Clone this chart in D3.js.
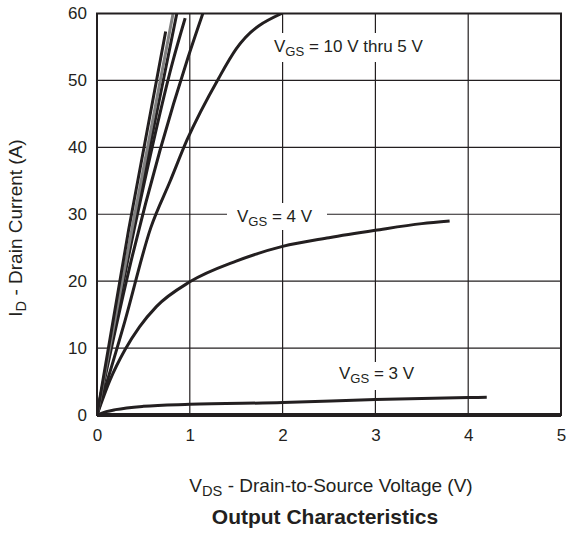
<!DOCTYPE html>
<html>
<head>
<meta charset="utf-8">
<script src="https://cdn.jsdelivr.net/npm/d3@7"></script>
<style>
  body { margin: 0; background: #fff; }
  svg text { font-family: "Liberation Sans", Arial, sans-serif; fill: #231f20; }
</style>
</head>
<body>
<svg width="566" height="533"></svg>
<script>
// tick values
var xTicks = [0, 1, 2, 3, 4, 5];
var yTicks = [0, 10, 20, 30, 40, 50, 60];

// curves, [VDS, ID]
var vgs10 = [[0, 0], [0.34, 27.6], [0.74, 57.3]];
var vgs9 = [[0, 0], [0.38, 28], [0.82, 60]];
var vgs8 = [[0, 0], [0.4, 28.5], [0.86, 60]];
var vgs7 = [[0, 0], [0.42, 29], [0.82, 53], [0.95, 59.3]];
var vgs6 = [[0, 0], [0.35, 22], [0.68, 39.6], [0.98, 53.4], [1.14, 60]];
var vgs5 = [[0, 0], [0.3, 14], [0.58, 28], [0.79, 35], [0.97, 41.1], [1.31, 50.3], [1.5, 54.7], [1.99, 60]];
var vgs4 = [[0, 0], [0.14, 5.2], [0.3, 9.7], [0.46, 13.2], [0.64, 16.2], [1, 19.9], [1.5, 23], [2, 25.2], [2.5, 26.5], [3, 27.6], [3.5, 28.6], [3.8, 29]];
var vgs3 = [[0, 0], [0.1, 0.5], [0.2, 0.8], [0.5, 1.3], [1, 1.6], [2, 1.85], [3, 2.3], [4, 2.6], [4.2, 2.65]];

var svg = d3.select("svg");
var mLeft = 97, mTop = 13.5, w = 464, h = 401.5;

var x = d3.scaleLinear().domain([0, 5]).range([0, w]);
var y = d3.scaleLinear().domain([0, 60]).range([h, 0]);

var g = svg.append("g").attr("transform", "translate(" + mLeft + "," + mTop + ")");

// grid
g.append("g").selectAll("line").data(xTicks).join("line")
    .attr("x1", d => x(d)).attr("x2", d => x(d))
    .attr("y1", 0).attr("y2", h)
    .attr("stroke", "#231f20").attr("stroke-width", 1.2);
g.append("g").selectAll("line").data(yTicks).join("line")
    .attr("x1", 0).attr("x2", w)
    .attr("y1", d => y(d)).attr("y2", d => y(d))
    .attr("stroke", "#231f20").attr("stroke-width", 1.2);

// white boxes behind labels
var boxes = [[270, 33, 172, 29], [227, 203, 100, 27], [334, 362, 91, 28]];
svg.append("g").selectAll("rect").data(boxes).join("rect")
    .attr("x", d => d[0]).attr("y", d => d[1])
    .attr("width", d => d[2]).attr("height", d => d[3])
    .attr("fill", "#fff");

// curves
svg.append("clipPath").attr("id", "clip").append("rect")
    .attr("width", w).attr("height", h + 5);
var line = d3.line().x(d => x(d[0])).y(d => y(d[1])).curve(d3.curveMonotoneX);
var curves = [
  {d: vgs4, c: "#231f20"}, {d: vgs3, c: "#231f20"}, {d: vgs5, c: "#231f20"},
  {d: vgs6, c: "#231f20"}, {d: vgs7, c: "#231f20"}, {d: vgs8, c: "#231f20"},
  {d: vgs9, c: "#808080"}, {d: vgs10, c: "#231f20"}
];
g.append("g").attr("clip-path", "url(#clip)").selectAll("path").data(curves).join("path")
    .attr("d", d => line(d.d))
    .attr("fill", "none").attr("stroke", d => d.c)
    .attr("stroke-width", 3).attr("stroke-linejoin", "round");

// frame
g.append("rect").attr("width", w).attr("height", h)
    .attr("fill", "none").attr("stroke", "#231f20").attr("stroke-width", 2);
g.append("line").attr("x1", 0).attr("x2", w).attr("y1", h).attr("y2", h)
    .attr("stroke", "#231f20").attr("stroke-width", 4);

// axes (ticks drawn as labels only)
var xAxis = g.append("g").attr("transform", "translate(0," + h + ")")
    .call(d3.axisBottom(x).tickValues(xTicks).tickSize(0).tickPadding(14).tickFormat(d3.format("d")));
var yAxis = g.append("g")
    .call(d3.axisLeft(y).tickValues(yTicks).tickSize(0).tickPadding(10).tickFormat(d3.format("d")));
[xAxis, yAxis].forEach(a => {
  a.select(".domain").remove();
  a.selectAll("text").attr("font-size", 17).attr("font-family", "Liberation Sans, Arial, sans-serif").attr("fill", "#231f20");
});

// label with subscript helper
function subLabel(px, py, main, sub, rest, anchor, size) {
  size = size || 17;
  var t = svg.append("text").attr("x", px).attr("y", py)
      .attr("font-size", size).attr("text-anchor", anchor || "start");
  t.append("tspan").text(main);
  t.append("tspan").attr("font-size", size * 0.77).attr("dy", 4).text(sub);
  t.append("tspan").attr("dy", -4).text(rest);
  return t;
}

subLabel(274, 52, "V", "GS", " = 10 V thru 5 V");
subLabel(237, 222, "V", "GS", " = 4 V");
subLabel(339, 379, "V", "GS", " = 3 V");

subLabel(331, 492, "V", "DS", " - Drain-to-Source Voltage (V)", "middle", 19);

subLabel(0, 0, "I", "D", " - Drain Current (A)", "middle", 19)
    .attr("transform", "translate(22,228) rotate(-90)");

svg.append("text").attr("x", 325).attr("y", 524).attr("text-anchor", "middle")
    .attr("font-size", 21).attr("font-weight", "bold").text("Output Characteristics");
</script>
</body>
</html>
